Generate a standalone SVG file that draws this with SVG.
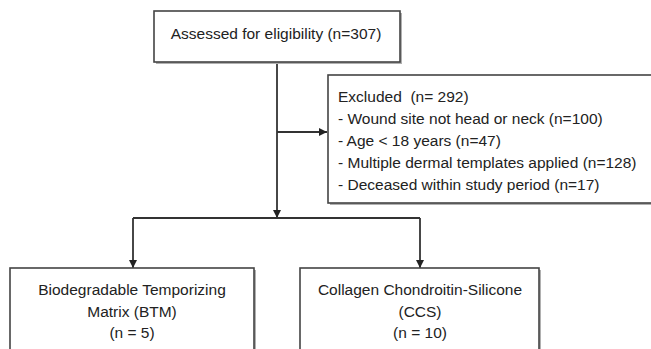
<svg xmlns="http://www.w3.org/2000/svg" width="651" height="349" viewBox="0 0 651 349">
<style>
.box{fill:#fff;stroke:#444;stroke-width:1.6}
.shadow{fill:#b0b0b0;stroke:none}
.t{font-family:"Liberation Sans",Arial,sans-serif;font-size:15.5px;fill:#222;white-space:pre}
.c{text-anchor:middle}
.ln{fill:none;stroke:#333;stroke-width:1.8}
</style>
<defs>
<marker id="ah" viewBox="0 0 10 10" refX="10" refY="5" markerWidth="8" markerHeight="8" markerUnits="userSpaceOnUse" orient="auto">
<path d="M0,0 L10,5 L0,10 z" fill="#222"/>
</marker>
</defs>
<rect width="651" height="349" fill="#fff"/>
<g id="connectors">
<path class="ln" d="M277,62 V218" marker-end="url(#ah)"/>
<path class="ln" d="M277,132 H327" marker-end="url(#ah)"/>
<path class="ln" d="M133,218 H420"/>
<path class="ln" d="M133,218 V268" marker-end="url(#ah)"/>
<path class="ln" d="M420,218 V268" marker-end="url(#ah)"/>
</g>
<g id="assessed">
<rect class="shadow" x="156" y="13" width="246" height="51"/>
<rect class="box" x="154" y="11" width="246" height="51"/>
<text class="t c" x="276" y="39">Assessed for eligibility (n=307)</text>
</g>
<g id="excluded">
<rect class="shadow" x="330" y="77" width="330" height="128"/>
<rect class="box" x="328" y="75" width="330" height="128"/>
<text class="t" x="338" y="102">Excluded  (n= 292)</text>
<text class="t" x="338" y="124">- Wound site not head or neck (n=100)</text>
<text class="t" x="338" y="146">- Age &lt; 18 years (n=47)</text>
<text class="t" x="338" y="168">- Multiple dermal templates applied (n=128)</text>
<text class="t" x="338" y="190">- Deceased within study period (n=17)</text>
</g>
<g id="btm">
<rect class="shadow" x="12" y="270" width="244" height="100"/>
<rect class="box" x="10" y="268" width="244" height="100"/>
<text class="t c" x="132" y="295">Biodegradable Temporizing</text>
<text class="t c" x="132" y="317">Matrix (BTM)</text>
<text class="t c" x="132" y="338">(n = 5)</text>
</g>
<g id="ccs">
<rect class="shadow" x="302" y="270" width="239" height="100"/>
<rect class="box" x="300" y="268" width="239" height="100"/>
<text class="t c" x="420" y="295">Collagen Chondroitin-Silicone</text>
<text class="t c" x="420" y="317">(CCS)</text>
<text class="t c" x="420" y="338">(n = 10)</text>
</g>
</svg>
